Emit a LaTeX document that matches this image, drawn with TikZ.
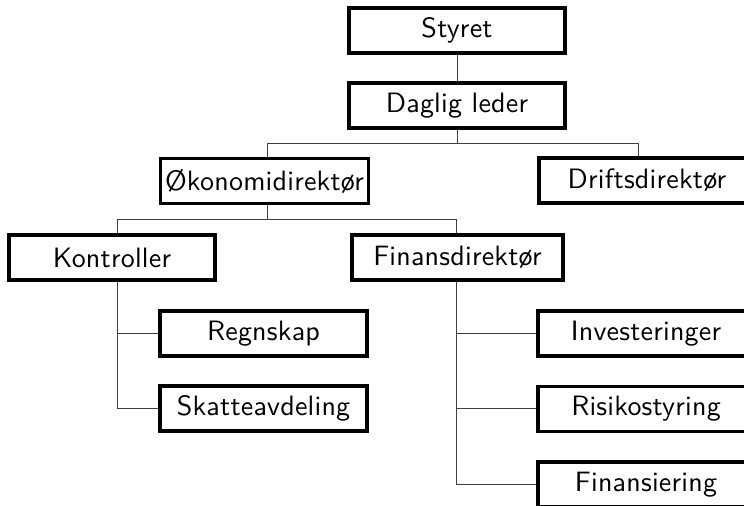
\documentclass[tikz,border=0pt]{standalone}
\usepackage{fontspec}
\newfontfamily\boxfont{lmsans10-regular.otf}[LetterSpace=0.8]
\tikzset{
  box/.style={draw=black, line width=1.6pt, minimum width=#1*0.5pt, minimum height=22.5pt, inner sep=0pt, font=\boxfont\fontsize{14}{16}\selectfont},
  box/.default=210,
  conn/.style={draw=black!75, line width=0.5pt}
}
\begin{document}
\begin{tikzpicture}[x=0.5pt,y=-0.5pt]
\useasboundingbox (0,0) rectangle (744,506);
\clip (0,0) rectangle (744,506);
% trunk positions
\coordinate (j1) at (0,144);
\coordinate (j2) at (0,220);
\coordinate (okox) at (267,0);
\coordinate (drix) at (638,0);
\coordinate (konx) at (117,0);
\coordinate (finx) at (456,0);
% nodes
\node[box=216] (sty) at (457,30.5) {Styret};
\node[box=216] (dag) at (457,105.5) {Daglig leder};
\node[box=208] (oko) at (264.5,181) {Økonomidirektør};
\node[box=216] (dri) at (647,180.5) {Driftsdirektør};
\node[box=206] (kon) at (112,257.5) {Kontroller};
\node[box=211] (fin) at (457.5,257.5) {Finansdirektør};
\node[box=207] (reg) at (263.5,333.5) {Regnskap};
\node[box=207] (ska) at (263.5,408.5) {Skatteavdeling};
\node[box=216] (inv) at (646,333.5) {Investeringer};
\node[box=216] (ris) at (646,409) {Risikostyring};
\node[box=216] (fis) at (646,484.5) {Finansiering};
% connectors
\draw[conn] (sty) -- (dag);
\draw[conn] (dag.south) -- (dag.south |- j1);
\draw[conn] (okox |- oko.north) |- (drix |- j1) -- (drix |- dri.north);
\draw[conn] (okox |- oko.south) -- (okox |- j2);
\draw[conn] (konx |- kon.north) |- (finx |- j2) -- (finx |- fin.north);
\draw[conn] (konx |- kon.south) |- (ska.west);
\draw[conn] (konx |- reg.west) -- (reg.west);
\draw[conn] (finx |- fin.south) |- (fis.west);
\draw[conn] (finx |- inv.west) -- (inv.west);
\draw[conn] (finx |- ris.west) -- (ris.west);
\end{tikzpicture}
\end{document}
